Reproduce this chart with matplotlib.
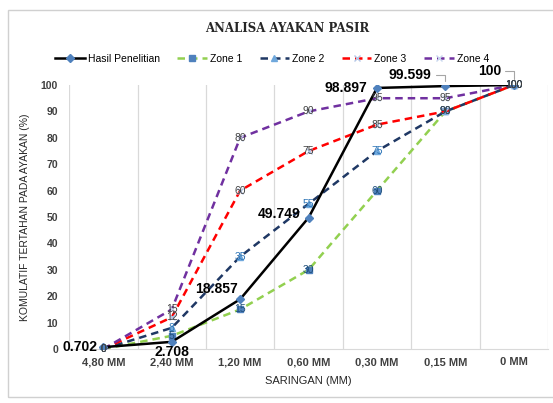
import matplotlib.pyplot as plt
from matplotlib.patches import Rectangle

plt.rcParams['font.family'] = ['Liberation Sans Narrow', 'Liberation Sans', 'DejaVu Sans']

saringan = ["4,80 MM", "2,40 MM", "1,20 MM", "0,60 MM", "0,30 MM", "0,15 MM", "0 MM"]
hasil = [0.702, 2.708, 18.857, 49.749, 98.897, 99.599, 100]
zone1 = [0, 5, 15, 30, 60, 90, 100]
zone2 = [0, 8, 35, 55, 75, 90, 100]
zone3 = [0, 12, 60, 75, 85, 90, 100]
zone4 = [0, 15, 80, 90, 95, 95, 100]

x = list(range(len(saringan)))

fig = plt.figure(figsize=(5.53, 4.03), dpi=100)
ax = fig.add_axes([0.125, 0.134, 0.866, 0.655])

# outer chart border
fig.patches.append(Rectangle((0.015, 0.015), 0.99, 0.96, transform=fig.transFigure,
                             fill=False, edgecolor="#d0d0d0", lw=1))

ax.plot(x, zone1, color="#92D050", lw=1.8, ls=(0, (3, 2)), marker="s", ms=5,
        mfc="#4F81BD", mec="#4F81BD", label="Zone 1", zorder=3)
ax.plot(x, zone2, color="#1F3864", lw=1.8, ls=(0, (3, 2)), marker="^", ms=4,
        mfc="#6FA8DC", mec="#6FA8DC", label="Zone 2", zorder=3)
ax.plot(x, zone3, color="#FF0000", lw=1.8, ls=(0, (3, 2)), marker="x", ms=4,
        mfc="#B4C7E7", mec="#B4C7E7", label="Zone 3", zorder=3)
ax.plot(x, zone4, color="#7030A0", lw=1.8, ls=(0, (3, 2)), marker="x", ms=4,
        mfc="#C9D7EE", mec="#C9D7EE", label="Zone 4", zorder=3)
ax.plot(x, hasil, color="black", lw=1.8, marker="D", ms=4.5,
        mfc="#4F81BD", mec="#4F81BD", label="Hasil Penelitian", zorder=4)

# zone data labels, centred on the points
for series, col in [(zone1, "#1F4E79"), (zone2, "#2E75B6"), (zone3, "#404040"), (zone4, "#404040")]:
    for i, v in enumerate(series):
        ax.text(i, v, str(v), ha="center", va="center", fontsize=7.5, color=col, zorder=5)

# hasil labels (offset in points, with leader line for some)
offsets = [(-4, 0, False), (0, -7, False), (-2, 7, False), (-6, 3, False),
           (-7, 0, False), (-10, 8, True), (-9, 10, True)]
for i, v in enumerate(hasil):
    dx, dy, leader = offsets[i]
    txt = "100" if v == 100 else f"{v:g}"
    ha = "center" if i == 1 else "right"
    kw = {}
    if leader:
        kw["arrowprops"] = dict(arrowstyle="-", color="#a6a6a6", lw=0.8,
                                connectionstyle="angle,angleA=0,angleB=90,rad=0",
                                shrinkA=1, shrinkB=4)
    ax.annotate(txt, (i, v), xytext=(dx, dy), textcoords="offset points", ha=ha, va="center",
                fontsize=10, fontweight="bold", color="black", zorder=6, **kw)

ax.set_xlim(-0.5, 6.5)
ax.set_ylim(0, 100)
ax.set_yticks(range(0, 101, 10))
ax.set_xticks(x)
ax.set_xticklabels(saringan, fontsize=8, fontweight="bold", color="#404040")
ax.tick_params(axis="y", labelsize=7.5, colors="#404040", length=0, pad=8)
ax.tick_params(axis="x", length=0, pad=6)
for lbl in ax.get_yticklabels():
    lbl.set_fontweight("bold")

for xv in [i + 0.5 for i in range(-1, 7)]:
    ax.axvline(xv, color="#d9d9d9", lw=0.9, zorder=0)
for s in ["top", "right", "left"]:
    ax.spines[s].set_visible(False)
ax.spines["bottom"].set_color("#d9d9d9")

ax.set_xlabel("SARINGAN (MM)", fontsize=8, color="#262626", labelpad=6)
ax.set_ylabel("KOMULATIF TERTAHAN PADA AYAKAN (%)", fontsize=7.5, color="#262626", labelpad=8)

fig.text(0.52, 0.93, "ANALISA AYAKAN PASIR", ha="center", va="center", fontsize=8.5,
         fontweight="bold", family="DejaVu Serif", color="#262626")

handles, labels = ax.get_legend_handles_labels()
order = [4, 0, 1, 2, 3]
ax.legend([handles[i] for i in order], [labels[i] for i in order], loc="center",
          bbox_to_anchor=(0.424, 1.10), ncol=5, frameon=False, fontsize=7.5,
          handlelength=2.8, columnspacing=1.7, handletextpad=0.3)

fig.savefig("out.png", dpi=100)
